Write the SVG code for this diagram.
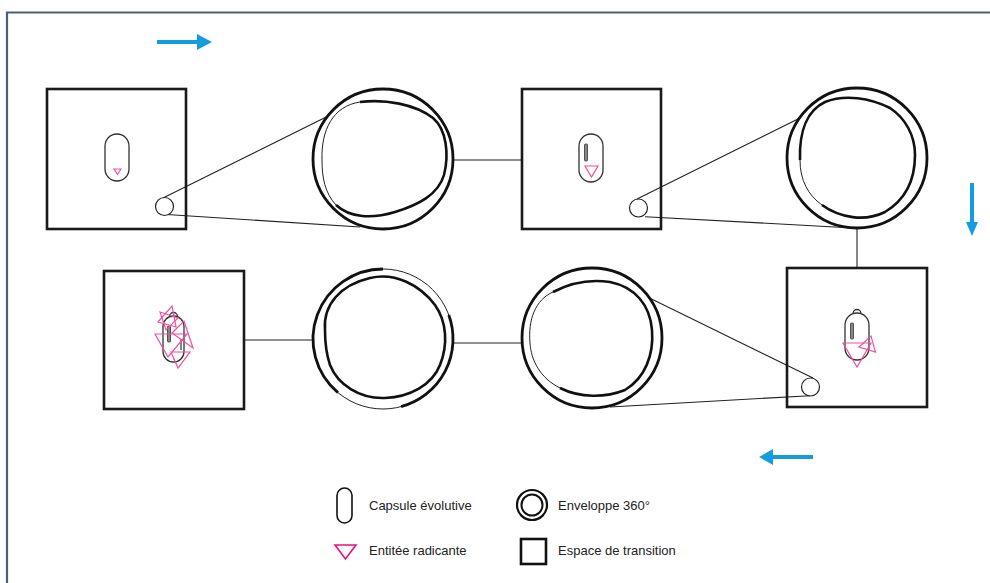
<svg xmlns="http://www.w3.org/2000/svg" width="990" height="583" viewBox="0 0 990 583">
<style>
.sq{fill:none;stroke:#1a1a1a;stroke-width:2.6}
.ring{fill:none;stroke:#111;stroke-width:2.8}
.thin{fill:none;stroke:#222;stroke-width:1}
.thick{fill:none;stroke:#111;stroke-width:2.6}
.cap{fill:#fff;stroke:#333;stroke-width:1.3}
.slit{fill:#888;stroke:#333;stroke-width:0.8}
.pink{fill:none;stroke:#f0509f;stroke-width:1.2}
.dot{fill:#fff;stroke:#222;stroke-width:1.2}
.con{fill:none;stroke:#222;stroke-width:1.1}
.blue{stroke:#139ddf;stroke-width:4;fill:none}
.bh{fill:#139ddf}
.lbl{font-family:"Liberation Sans",Arial,sans-serif;font-size:13px;fill:#222}
</style>
<rect width="990" height="583" fill="#fff"/>
<path d="M7,583 V12.5 H990" fill="none" stroke="#4a6075" stroke-width="2.2"/>

<g id="flow-arrows">
<line class="blue" x1="157" y1="42" x2="199" y2="42"/>
<polygon class="bh" points="197,34 212,42 197,50"/>
<line class="blue" x1="972" y1="183" x2="972" y2="224"/>
<polygon class="bh" points="966,222 972,236 978,222"/>
<line class="blue" x1="813" y1="457" x2="771" y2="457"/>
<polygon class="bh" points="773,449 759,457 773,465"/>
</g>

<g id="connectors">
<line class="con" x1="453" y1="160" x2="522" y2="160"/>
<line class="con" x1="857" y1="229" x2="857" y2="268"/>
<line class="con" x1="244" y1="340" x2="313" y2="340"/>
<line class="con" x1="453" y1="343" x2="522" y2="343"/>
<line class="con" x1="163" y1="198" x2="326.7" y2="116.7"/>
<line class="con" x1="166.7" y1="214.5" x2="360" y2="227"/>
<line class="con" x1="637" y1="199" x2="800" y2="118"/>
<line class="con" x1="645" y1="216.7" x2="853" y2="228"/>
<line class="con" x1="813" y1="378" x2="650" y2="298.3"/>
<line class="con" x1="810" y1="395.7" x2="610" y2="407"/>
</g>

<g id="square1">
<rect class="sq" x="47" y="89" width="139" height="140"/>
<rect class="cap" x="105" y="134" width="24" height="47" rx="12"/>
<polygon class="pink" points="114,169 121,169 117.5,174.5"/>
<circle class="dot" cx="164.5" cy="206.5" r="9"/>
</g>

<g id="envelope1">
<circle class="ring" cx="383" cy="159" r="70"/>
<path class="thin" d="M322,160 C321,130 333,106 360,102 C385,99 415,104 433,118 C447,130 449,155 444,175 C438,195 418,205 395,212 C372,219 350,218 336,205 C325,193 322,178 322,160 Z"/>
<path class="thick" d="M360,102 C385,99 415,104 433,118 C447,130 449,155 444,175 C438,195 418,205 395,212 C372,219 350,218 336,205"/>
</g>

<g id="square2">
<rect class="sq" x="522" y="89" width="139" height="140"/>
<rect class="cap" x="579" y="134" width="24" height="48" rx="12"/>
<rect class="slit" x="584.5" y="144" width="3" height="17" rx="1"/>
<polygon class="pink" points="585,166 598,166 591.5,177"/>
<circle class="dot" cx="638.5" cy="208" r="9"/>
</g>

<g id="envelope2">
<circle class="ring" cx="857" cy="158" r="70"/>
<path class="thin" d="M800,160 C799,130 808,110 825,102 C845,94 870,98 890,108 C905,118 915,135 915,155 C915,180 905,200 885,212 C865,222 840,218 822,205 C808,195 800,180 800,160 Z"/>
<path class="thick" d="M800,160 C799,130 808,110 825,102 C845,94 870,98 890,108 C905,118 915,135 915,155 C915,180 905,200 885,212 C865,222 840,218 822,205"/>
</g>

<g id="square4">
<rect class="sq" x="787" y="268" width="140" height="139"/>
<path class="cap" d="M853,313.5 A4,4 0 0 1 861,313.5"/>
<rect class="cap" x="845" y="313" width="24" height="47" rx="12"/>
<rect class="slit" x="850.5" y="323" width="3" height="16" rx="1"/>
<polygon class="pink" points="843,343 871,343 857,367"/>
<polygon class="pink" points="859,347 871,336 875.5,352"/>
<circle class="dot" cx="810.5" cy="387" r="9"/>
</g>

<g id="envelope3">
<circle class="ring" cx="592" cy="338" r="70"/>
<path class="thin" d="M530,343 C528,320 535,300 553,292 C570,283 590,279 610,282 C635,287 650,305 652,330 C654,355 645,378 625,390 C605,398 580,398 560,388 C540,378 531,360 530,343 Z"/>
<path class="thick" d="M553,292 C570,283 590,279 610,282 C635,287 650,305 652,330 C654,355 645,378 625,390 C605,398 580,398 560,388"/>
</g>

<g id="envelope4">
<circle class="thin" cx="383" cy="339" r="70"/>
<path class="ring" d="M448.8,315.1 A70,70 0 0 1 401.1,406.6"/>
<path class="ring" d="M338,392.6 A70,70 0 0 1 383,269"/>
<path class="thick" d="M325,330 C323,305 340,285 370,278 C395,272 420,285 435,305 C447,322 448,345 440,365 C432,385 410,397 385,398 C360,399 338,385 330,365 C326,353 325,342 325,330 Z"/>
</g>

<g id="square3">
<rect class="sq" x="104" y="271" width="140" height="138"/>
<path class="cap" d="M169.5,316.5 A4,4 0 0 1 177.5,316.5"/>
<rect class="cap" x="163" y="316" width="21" height="46" rx="10.5"/>
<rect class="slit" x="167.5" y="326" width="3" height="16" rx="1"/>
<line x1="181" y1="339" x2="181" y2="350" stroke="#333" stroke-width="1.2"/>
<polygon class="pink" points="158,322 172,306 176,327"/>
<polygon class="pink" points="155,334 187,334 168,357"/>
<polygon class="pink" points="184,321 193,348 172,333"/>
<polygon class="pink" points="171,352 190,352 178,368"/>
<polygon class="pink" points="160,312 178,318 166,330"/>
</g>

<g id="legend">
<rect x="337" y="488" width="15" height="35" rx="7.5" fill="#fff" stroke="#111" stroke-width="1.6"/>
<text class="lbl" x="369" y="510">Capsule évolutive</text>
<polygon points="335,545 356,545 345.5,559" fill="none" stroke="#e5127d" stroke-width="1.6"/>
<text class="lbl" x="369" y="555">Entitée radicante</text>
<circle cx="532" cy="505" r="15" fill="none" stroke="#111" stroke-width="2.2"/>
<circle cx="532" cy="505" r="10.5" fill="none" stroke="#111" stroke-width="2"/>
<text class="lbl" x="558" y="510">Enveloppe 360°</text>
<rect x="521" y="539" width="25" height="25" fill="#fff" stroke="#111" stroke-width="2.6"/>
<text class="lbl" x="558" y="555">Espace de transition</text>
</g>
</svg>
